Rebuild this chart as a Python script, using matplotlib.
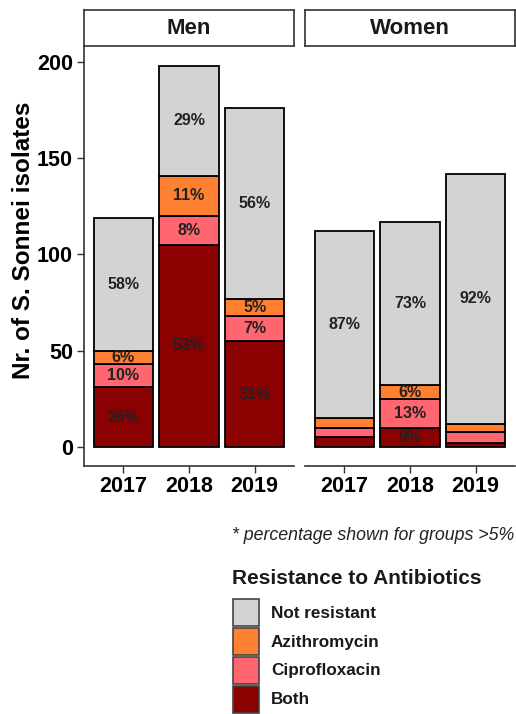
import numpy as np
import matplotlib
matplotlib.use('Agg')
from matplotlib import pyplot as plt
from matplotlib.patches import Rectangle

plt.rcParams['font.family'] = ['Liberation Sans', 'DejaVu Sans']

years = ['2017', '2018', '2019']
groups = ['Men', 'Women']
categories = ['Both', 'Ciprofloxacin', 'Azithromycin', 'Not resistant']
colors = {'Both': '#8B0000', 'Ciprofloxacin': '#FF6670',
          'Azithromycin': '#FF8030', 'Not resistant': '#D3D3D3'}

# counts per year, stacked bottom -> top
men_both = [31, 105, 55]
men_cipro = [12, 15, 13]
men_azi = [7, 21, 9]
men_not = [69, 57, 99]

women_both = [5, 10, 2]
women_cipro = [5, 15, 6]
women_azi = [5, 7, 4]
women_not = [97, 85, 130]

data = {
    'Men': [men_both, men_cipro, men_azi, men_not],
    'Women': [women_both, women_cipro, women_azi, women_not],
}

W, H = 516, 714
fig = plt.figure(figsize=(W / 100, H / 100), dpi=100)


def px(x0, y0, x1, y1):
    return [x0 / W, 1 - y1 / H, (x1 - x0) / W, (y1 - y0) / H]


panels = {'Men': (84, 294), 'Women': (305, 515)}
ylim = (-9.9, 208.3)
axcol = '#333333'

for g in groups:
    x0, x1 = panels[g]
    ax = fig.add_axes(px(x0, 46, x1, 466))
    x = np.arange(len(years))
    bottom = np.zeros(len(years))
    totals = np.sum(data[g], axis=0)
    for cat, vals in zip(categories, data[g]):
        vals = np.array(vals)
        ax.bar(x, vals, 0.9, bottom=bottom, color=colors[cat],
               edgecolor='black', linewidth=1.3)
        for i in range(len(years)):
            pct = vals[i] / totals[i] * 100
            if pct > 5:
                ax.text(x[i], bottom[i] + vals[i] / 2, f'{round(pct)}%',
                        ha='center', va='center', fontsize=11.5,
                        fontweight='bold', color='#222222')
        bottom = bottom + vals
    ax.set_xlim(-0.6, 2.6)
    ax.set_ylim(*ylim)
    ax.set_xticks(x)
    ax.set_xticklabels(years, fontsize=15.5, fontweight='bold')
    ax.set_yticks([0, 50, 100, 150, 200])
    ax.tick_params(axis='both', length=5, color=axcol, width=1)
    ax.tick_params(axis='x', pad=2)
    ax.tick_params(axis='y', pad=3)
    for s in ['top', 'right']:
        ax.spines[s].set_visible(False)
    ax.spines['bottom'].set_color(axcol)
    ax.spines['bottom'].set_linewidth(1.2)
    if g == 'Men':
        ax.spines['left'].set_color(axcol)
        ax.spines['left'].set_linewidth(1.2)
        ax.set_yticklabels([0, 50, 100, 150, 200], fontsize=15.5,
                           fontweight='bold')
        ax.set_ylabel('Nr. of S. Sonnei isolates', fontsize=17.5,
                      fontweight='bold')
        # centred over panel + strip, like ggplot facets
        ax.yaxis.set_label_coords(-0.235, (466 - 240) / 420)
    else:
        ax.spines['left'].set_visible(False)
        ax.tick_params(axis='y', left=False, labelleft=False)

    # facet strip
    sax = fig.add_axes(px(x0, 10, x1, 46))
    sax.set_xticks([])
    sax.set_yticks([])
    for s in sax.spines.values():
        s.set_color(axcol)
        s.set_linewidth(1.2)
    sax.text(0.5, 0.5, g, ha='center', va='center', fontsize=16,
             fontweight='bold', color='#1a1a1a', transform=sax.transAxes)

fig.text(514 / W, 1 - 536 / H, '* percentage shown for groups >5%',
         ha='right', va='center', fontsize=12.8, style='italic', color='#222222')

# legend
fig.text(232 / W, 1 - 578 / H, 'Resistance to Antibiotics', ha='left',
         va='center', fontsize=15, fontweight='bold', color='#1a1a1a')
legend_order = ['Not resistant', 'Azithromycin', 'Ciprofloxacin', 'Both']
for i, cat in enumerate(legend_order):
    top = 599 + i * 29
    fig.patches.append(Rectangle((233 / W, 1 - (top + 27) / H), 26 / W, 27 / H,
                                 transform=fig.transFigure,
                                 facecolor=colors[cat], edgecolor='#444444',
                                 linewidth=1.2))
    fig.text(271 / W, 1 - (top + 14) / H, cat, ha='left', va='center',
             fontsize=12.3, fontweight='bold', color='#1a1a1a')

fig.savefig('out.png', dpi=100)
